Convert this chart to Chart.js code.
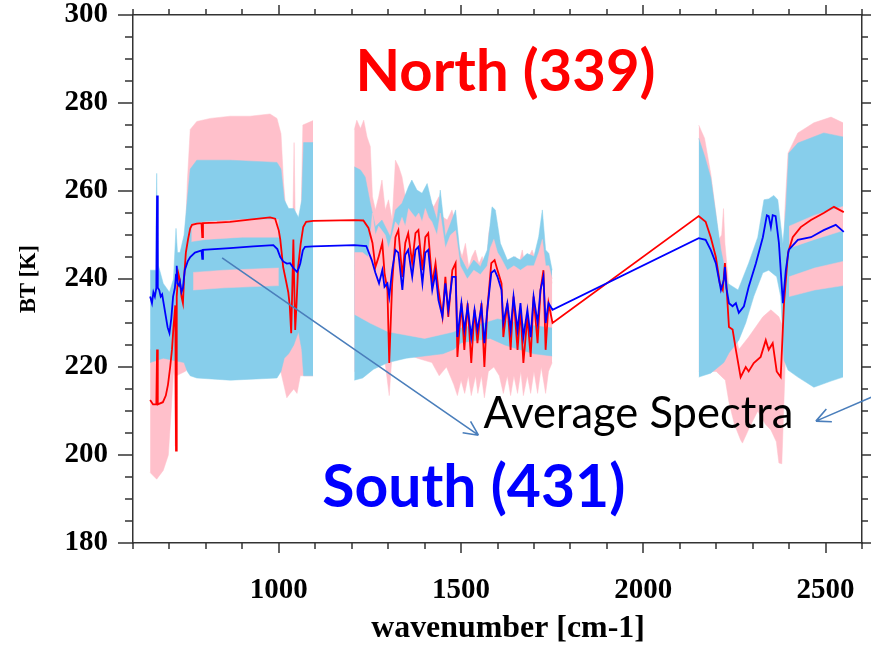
<!DOCTYPE html>
<html>
<head>
<meta charset="utf-8">
<script src="https://cdn.jsdelivr.net/npm/chart.js@4.4.1/dist/chart.umd.min.js"></script>
<style>
  html, body { margin: 0; padding: 0; background: #fff; }
  canvas { display: block; }
</style>
</head>
<body>
<canvas id="grafica" width="871" height="648"></canvas>
<script>
// --- Datos: [número de onda, BT] ---
// Envolvente de los espectros Norte (rosa), por banda
const norteLwTop = [[647,224],[665,224],[683,224],[697,226],[704,228],[711,234],[716,240],[722,242],[734,244],[743,248],[749,262],[757,274],[775,275.8],[812,276.5],[867,277],[921,277],[976,277.5],[995,276.5],[1006,273],[1013,262],[1020,255],[1030,252],[1039,256],[1042,271],[1045,254],[1054,250],[1061,254],[1066,275],[1094,276]];
const norteLwBot = [[647,196],[665,194.5],[683,196.5],[697,200],[704,209],[711,219],[713,218],[716,202],[719,218],[743,219],[757,220],[800,221],[1000,221],[1008,218],[1022,213],[1031,214],[1041,215],[1050,214],[1059,218],[1094,218]];
const norteMwTop = [[1207,273.9],[1214,276.1],[1224,274.2],[1233,276.1],[1242,272.3],[1251,270.1],[1257,258.7],[1265,255.7],[1274,258.7],[1283,262.5],[1292,255.7],[1301,258],[1311,253.4],[1320,267],[1329,265.5],[1338,263.2],[1347,258.7],[1356,260.2],[1365,260.2],[1375,258.7],[1384,259.5],[1393,257.2],[1402,259.5],[1411,258],[1425,256.4],[1439,258.7],[1448,254.2],[1462,253.4],[1475,255.7],[1485,252.6],[1494,247.3],[1503,245.1],[1512,248.1],[1521,242.8],[1530,245.1],[1539,246.6],[1549,243.5],[1558,245.1],[1567,240.5],[1576,250.4],[1585,253.4],[1594,252.6],[1604,248.1],[1613,246.6],[1622,242.8],[1631,244.3],[1640,242],[1649,245.1],[1659,243.5],[1668,246.6],[1677,242],[1686,245.1],[1695,246.6],[1704,244.3],[1713,248.1],[1723,251.1],[1732,244.3],[1741,242.8],[1750,239]];
const norteMwBot = [[1207,219],[1250,220],[1290,222],[1303,213.5],[1310,222],[1350,223],[1380,222],[1420,221],[1440,218],[1460,220],[1480,216],[1490,213.5],[1500,217],[1510,214],[1520,218],[1528,213.5],[1540,218],[1546,214],[1556,218],[1564,213],[1575,219],[1590,220],[1605,218],[1616,214],[1627,218],[1636,213.5],[1645,218],[1655,214],[1664,219],[1671,213.5],[1682,218],[1691,214],[1700,219],[1710,214],[1720,220],[1732,214],[1740,219],[1750,221]];
const norteSwTop = [[2152,275],[2168,272],[2185,264],[2199,255],[2207,249],[2215,250],[2220,256],[2224,248],[2235,238],[2250,229],[2262,224],[2289,226.8],[2328,231.4],[2350,233],[2372,231.4],[2383,229],[2388,255],[2397,268.6],[2424,273.2],[2468,275.5],[2515,276.8],[2548,275.5]];
const norteSwBot = [[2152,219],[2200,219],[2225,217],[2235,212],[2250,207],[2267,203.4],[2272,202.7],[2290,206],[2314,210],[2335,207],[2350,205.7],[2365,203],[2372,198.2],[2380,198],[2385,210],[2391,225],[2400,219.5],[2450,218],[2548,218]];

// Franjas Norte que asoman por encima de los espectros Sur
const norteLwFranja1Top = [[760,252.5],[800,253],[900,253.5],[1000,253.5]];
const norteLwFranja1Bot = [[760,248.5],[800,249],[900,249.5],[1000,249.5]];
const norteLwFranja2Top = [[765,241.5],[850,242],[1000,242.5]];
const norteLwFranja2Bot = [[765,237.5],[850,238],[1000,238.5]];
const norteMwMedioTop = [[1207,246],[1230,246],[1245,245],[1251,250],[1257,255],[1265,250],[1274,252],[1283,251],[1292,250],[1301,247],[1311,250],[1320,253],[1329,252],[1338,254],[1347,252],[1356,256],[1365,255],[1375,254],[1384,255],[1393,253],[1402,256],[1411,254],[1420,253],[1434,250],[1443,255],[1457,247],[1471,250],[1485,251],[1498,243],[1517,240],[1535,242],[1553,241],[1572,243],[1580,247],[1590,249],[1600,246],[1608,245],[1627,242],[1645,243],[1663,242],[1681,243],[1700,243],[1713,246],[1723,249],[1732,243],[1741,243],[1750,240]];
const norteMwMedioBot = [[1207,232],[1250,230],[1300,228],[1400,226.5],[1480,228],[1500,229],[1560,230],[1600,231],[1700,229.5],[1750,229]];
const norteSwFranjaTop = [[2400,252],[2470,254.5],[2548,256.5]];
const norteSwFranjaBot = [[2400,247],[2470,249],[2548,251]];
const norteSwFranja2Top = [[2400,240.5],[2470,242.5],[2548,244]];
const norteSwFranja2Bot = [[2400,236],[2470,237.5],[2548,238.5]];

// Envolvente de los espectros Sur (celeste), por banda
const surLwTop = [[647,242],[661,242],[663,252],[665,264],[667,252],[670,243],[683,239],[700,237],[711,240],[718,251.5],[722,246],[729,246],[740,250],[749,258],[757,265],[775,267],[867,267],[995,266.5],[1006,265],[1015,258],[1027,256],[1041,256],[1054,254],[1063,258],[1068,271],[1094,271]];
const surLwBot = [[647,221],[683,222],[740,221],[749,219],[757,218],[775,217.5],[867,217],[995,217.5],[1006,219],[1015,222],[1027,223],[1041,225],[1054,228],[1063,224],[1068,218],[1094,218]];
const surMwTop = [[1207,265.5],[1224,264.8],[1237,263.2],[1251,257.2],[1265,251.9],[1283,253.4],[1306,249.6],[1320,255.7],[1338,257.2],[1356,261],[1365,262.5],[1379,260.2],[1393,259.5],[1407,261.7],[1420,257.2],[1434,253.4],[1443,260.2],[1457,249.6],[1471,252.6],[1485,255.7],[1498,245.1],[1517,242],[1535,244.3],[1553,242.8],[1572,246.6],[1585,256.4],[1594,255.7],[1608,248.1],[1627,244.3],[1645,245.1],[1663,244.3],[1681,245.8],[1700,245.1],[1713,249.6],[1723,255.7],[1732,246.6],[1741,245.8],[1750,242]];
const surMwBot = [[1207,217],[1230,217.5],[1260,219.5],[1300,221],[1350,222],[1400,222.5],[1450,223],[1480,224],[1500,225.5],[1540,226],[1580,226.5],[1620,225],[1660,224],[1700,223],[1750,222.5]];
const surSwTop = [[2152,272],[2168,268],[2185,263],[2213,246.6],[2232,239],[2260,237.5],[2289,243.6],[2314,249.5],[2331,258],[2344,258.2],[2358,259],[2369,258],[2383,248],[2391,255.7],[2399,268.6],[2424,270.9],[2495,273.2],[2548,272.3]];
const surSwBot = [[2152,217.7],[2185,218.6],[2221,221],[2235,223.2],[2262,226.1],[2281,230],[2303,236],[2328,241.4],[2344,242],[2366,240.5],[2377,236],[2386,221.6],[2397,219.3],[2424,217.7],[2468,215.4],[2515,216.8],[2548,217.7]];

// Espectros promedio
const mediaNorte = [[647,212.5],[655,211.5],[664,211.5],[666,224],[668,211.5],[682,212],[690,213.5],[696,216],[702,220],[707,224],[711,229],[714,232],[716,234],[718,201],[720,236],[724,241.4],[728,240],[733,236],[737,234.5],[740,240],[745,246],[751,249],[757,251.5],[762,252.3],[775,252.6],[788,252.7],[790,249.5],[792,252.7],[830,252.8],[866,253],[920,253.5],[976,254],[990,253.7],[1000,251],[1004,249],[1012,242.7],[1020,239.5],[1026,237],[1030,234],[1034,227.7],[1037,238],[1040,249],[1042,240],[1045,228.4],[1049,235],[1053,242.7],[1060,248],[1067,251.8],[1075,253],[1094,253.2],
  [1207,253.4],[1232,253.3],[1246,251.6],[1257,248.2],[1265,242.7],[1273,244.8],[1284,248.2],[1290,241.4],[1298,237.5],[1303,220.9],[1311,239],[1320,249.5],[1328,251.1],[1339,240.5],[1347,248.2],[1355,250.4],[1366,243.6],[1375,250.4],[1383,251.1],[1394,242],[1402,249.5],[1410,250.4],[1421,239],[1430,243.6],[1438,237.5],[1449,231.4],[1457,240.5],[1465,231.4],[1476,242],[1485,243.6],[1490,222.3],[1501,234.5],[1509,223.9],[1518,234.5],[1528,220.9],[1537,233],[1545,225.4],[1556,234.5],[1564,220],[1572,233],[1583,243.6],[1592,244.3],[1600,242],[1611,239],[1616,226.8],[1627,234.5],[1636,223.9],[1644,236],[1655,223.9],[1663,233],[1671,220.9],[1682,231.4],[1691,222.3],[1699,236],[1710,225.4],[1718,237.5],[1726,242],[1732,223.9],[1740,234.5],[1751,230],
  [2152,254.3],[2171,253],[2185,249.5],[2199,245],[2210,239],[2218,237.5],[2224,243.6],[2230,236],[2235,229.1],[2245,228.5],[2254,223.9],[2267,217.7],[2281,220],[2289,219],[2303,220.9],[2322,222.3],[2336,226.1],[2344,223.9],[2355,225.4],[2366,219],[2377,217.7],[2386,234.5],[2397,245.9],[2410,249.5],[2432,251.8],[2460,253.4],[2495,255],[2523,256.4],[2550,255.2]];
const mediaSur = [[647,236],[652,234.5],[656,237],[660,236],[664,238],[666,259],[668,238],[672,237.5],[676,236],[680,236.5],[685,234],[690,231.5],[695,229],[700,227.7],[705,231],[710,236],[715,238],[718,241],[720,243],[722,239],[726,238.5],[729,239.3],[733,237],[737,238],[742,242],[750,244],[757,245],[770,246],[788,246.5],[790,244.6],[792,246.6],[866,247],[930,247.4],[985,247.7],[996,246.8],[1004,245],[1012,244],[1022,243.5],[1031,243.6],[1040,242.5],[1050,241.6],[1055,242.5],[1059,243.6],[1066,246.5],[1072,247.3],[1094,247.4],
  [1207,247.7],[1240,247.5],[1255,244.3],[1265,241.4],[1275,239],[1284,242],[1290,238.2],[1298,239],[1303,236],[1311,242],[1320,246.6],[1328,246],[1339,237.5],[1347,245.5],[1355,246.6],[1366,240.5],[1375,246.6],[1383,247.3],[1394,239],[1402,246],[1410,246.6],[1421,237.5],[1430,241.4],[1438,235.2],[1449,231.4],[1457,239],[1465,233],[1476,240.5],[1485,240.5],[1490,226.8],[1501,234.5],[1509,228.4],[1518,233.8],[1528,226.8],[1537,233],[1545,228.4],[1556,233.8],[1564,225.4],[1572,233],[1583,241.4],[1592,242],[1600,240.5],[1611,237.5],[1616,230],[1627,234.5],[1636,228.4],[1644,236],[1655,228.4],[1663,234.5],[1671,226.8],[1682,233],[1691,226.8],[1699,236],[1710,230],[1718,237.5],[1726,240.5],[1732,230],[1740,234.5],[1751,233],
  [2152,249.3],[2171,248.9],[2185,246.6],[2199,243.6],[2213,237.5],[2221,239.8],[2224,242.7],[2228,238],[2235,234.5],[2245,233.8],[2254,234.5],[2262,232.3],[2276,233.8],[2289,238.2],[2309,243.6],[2328,249.5],[2339,254.5],[2344,254.3],[2350,251.8],[2355,254.5],[2363,254.3],[2372,248.2],[2383,234.5],[2391,242],[2399,246.6],[2424,248.9],[2460,249.5],[2495,251.1],[2528,252.3],[2550,250.7]];

// Ejes
const etiquetasX = [1000, 1500, 2000, 2500];
const etiquetasY = [180, 200, 220, 240, 260, 280, 300];

const ROSA = '#ffc0cb';
const CELESTE = '#87ceeb';
const aPuntos = lista => lista.map(([x, y]) => ({ x, y }));

function banda(top, bot, color, orden) {
    return [
        { data: aPuntos(top), fill: '+1', backgroundColor: color, borderColor: color, borderWidth: 0.5, pointRadius: 0, order: orden },
        { data: aPuntos(bot), fill: false, borderColor: color, borderWidth: 0.5, pointRadius: 0, order: orden }
    ];
}

function fuenteAjustada(ctx, texto, ancho, peso, familia) {
    ctx.font = `${peso} 100px ${familia}`;
    const w = ctx.measureText(texto).width;
    return `${peso} ${(100 * ancho / w).toFixed(1)}px ${familia}`;
}

// Marcas de los ejes (mayores y menores, hacia fuera)
const marcasEjes = {
    id: 'marcasEjes',
    afterDraw(chart) {
        const { ctx, chartArea: a, scales: { x, y } } = chart;
        ctx.save();
        ctx.strokeStyle = '#333';
        ctx.lineWidth = 1.5;
        ctx.beginPath();
        for (let v = 600; v <= 2600; v += 100) {
            const px = Math.round(x.getPixelForValue(v));
            const may = v % 500 === 0;
            ctx.moveTo(px, a.bottom); ctx.lineTo(px, a.bottom + (may ? 10 : 6));
            ctx.moveTo(px, a.top); ctx.lineTo(px, a.top - (may ? 10 : 6));
        }
        for (let v = 180; v <= 300; v += 5) {
            const py = Math.round(y.getPixelForValue(v));
            const may = v % 20 === 0;
            ctx.moveTo(a.left, py); ctx.lineTo(a.left - (may ? 15 : 8), py);
            ctx.moveTo(a.right, py); ctx.lineTo(a.right + (may ? 10 : 6), py);
        }
        ctx.stroke();

        // títulos de ejes
        ctx.fillStyle = '#000';
        ctx.font = fuenteAjustada(ctx, 'wavenumber [cm-1]', 274, 'bold', '"Liberation Serif"');
        ctx.textAlign = 'center';
        ctx.textBaseline = 'alphabetic';
        ctx.fillText('wavenumber [cm-1]', 508, 637);
        ctx.translate(35, 279);
        ctx.rotate(-Math.PI / 2);
        ctx.font = fuenteAjustada(ctx, 'BT [K]', 68, 'bold', '"Liberation Serif"');
        ctx.fillText('BT [K]', 0, 0);
        ctx.restore();
    }
};

// Rótulos y flechas
function flecha(ctx, x0, y0, x1, y1) {
    const ang = Math.atan2(y1 - y0, x1 - x0);
    ctx.beginPath();
    ctx.moveTo(x0, y0); ctx.lineTo(x1, y1);
    for (const d of [-0.45, 0.45]) {
        ctx.moveTo(x1, y1);
        ctx.lineTo(x1 - 16 * Math.cos(ang + d), y1 - 16 * Math.sin(ang + d));
    }
    ctx.stroke();
}

const rotulos = {
    id: 'rotulos',
    afterDatasetsDraw(chart) {
        const { ctx, scales: { x, y } } = chart;
        const X = v => x.getPixelForValue(v), Y = v => y.getPixelForValue(v);
        ctx.save();
        ctx.textBaseline = 'alphabetic';
        ctx.textAlign = 'center';
        ctx.fillStyle = '#ff0000';
        ctx.font = fuenteAjustada(ctx, 'North (339)', 300, 'bold', 'Lato');
        ctx.fillText('North (339)', X(1622), Y(282.7));
        ctx.fillStyle = '#0000ff';
        ctx.font = fuenteAjustada(ctx, 'South (431)', 303, 'bold', 'Lato');
        ctx.fillText('South (431)', X(1535), Y(188.2));
        ctx.textAlign = 'left';
        ctx.fillStyle = '#000';
        ctx.font = fuenteAjustada(ctx, 'Average Spectra', 310, 'normal', 'Lato');
        ctx.fillText('Average Spectra', X(1561.5), Y(206.1));

        ctx.strokeStyle = '#4a7ebb';
        ctx.lineWidth = 1.6;
        flecha(ctx, X(844.5), Y(244.8), X(1547.7), Y(204.5));
        flecha(ctx, X(2627), Y(213.2), X(2473.5), Y(207.7));
        ctx.restore();
    }
};

const sinRelleno = s => { s.paddingLeft = 0; s.paddingRight = 0; s.paddingTop = 0; s.paddingBottom = 0; };

const ejeFijo = (extra) => Object.assign({
    type: 'linear',
    grid: { display: false, drawTicks: false },
    border: { display: true, color: '#333', width: 1.5 }
}, extra);

const fuenteTicks = { family: '"Liberation Serif"', weight: 'bold', size: 29 };

new Chart(document.getElementById('grafica').getContext('2d'), {
    type: 'line',
    data: {
        datasets: [
            ...banda(norteLwTop, norteLwBot, ROSA, 6),
            ...banda(norteMwTop, norteMwBot, ROSA, 6),
            ...banda(norteSwTop, norteSwBot, ROSA, 6),
            ...banda(surLwTop, surLwBot, CELESTE, 5),
            ...banda(surMwTop, surMwBot, CELESTE, 5),
            ...banda(surSwTop, surSwBot, CELESTE, 5),
            ...banda(norteLwFranja1Top, norteLwFranja1Bot, ROSA, 4),
            ...banda(norteLwFranja2Top, norteLwFranja2Bot, ROSA, 4),
            ...banda(norteMwMedioTop, norteMwMedioBot, ROSA, 4),
            ...banda(norteSwFranjaTop, norteSwFranjaBot, ROSA, 4),
            ...banda(norteSwFranja2Top, norteSwFranja2Bot, ROSA, 4),
            { data: aPuntos(mediaNorte), borderColor: '#ff0000', borderWidth: 1.8, pointRadius: 0, fill: false, order: 2 },
            { data: aPuntos(mediaSur), borderColor: '#0000ff', borderWidth: 1.8, pointRadius: 0, fill: false, order: 1 }
        ]
    },
    options: {
        responsive: false,
        animation: false,
        layout: { padding: 0, autoPadding: false },
        plugins: { legend: { display: false }, tooltip: { enabled: false } },
        scales: {
            x: ejeFijo({
                position: 'bottom', min: 600, max: 2600,
                afterBuildTicks: s => { s.ticks = etiquetasX.map(v => ({ value: v })); },
                afterFit: s => { s.height = 105; sinRelleno(s); },
                ticks: { font: fuenteTicks, color: '#000', padding: 30, maxRotation: 0, callback: v => String(v) }
            }),
            xTop: ejeFijo({
                position: 'top', min: 600, max: 2600,
                ticks: { display: false },
                afterFit: s => { s.height = 15; sinRelleno(s); }
            }),
            y: ejeFijo({
                position: 'left', min: 180, max: 300,
                afterBuildTicks: s => { s.ticks = etiquetasY.map(v => ({ value: v })); },
                afterFit: s => { s.width = 133; sinRelleno(s); },
                ticks: { font: fuenteTicks, color: '#000', padding: 25, callback: v => String(v) }
            }),
            yRight: ejeFijo({
                position: 'right', min: 180, max: 300,
                ticks: { display: false },
                afterFit: s => { s.width = 9; sinRelleno(s); }
            })
        }
    },
    plugins: [marcasEjes, rotulos]
});
</script>
</body>
</html>
